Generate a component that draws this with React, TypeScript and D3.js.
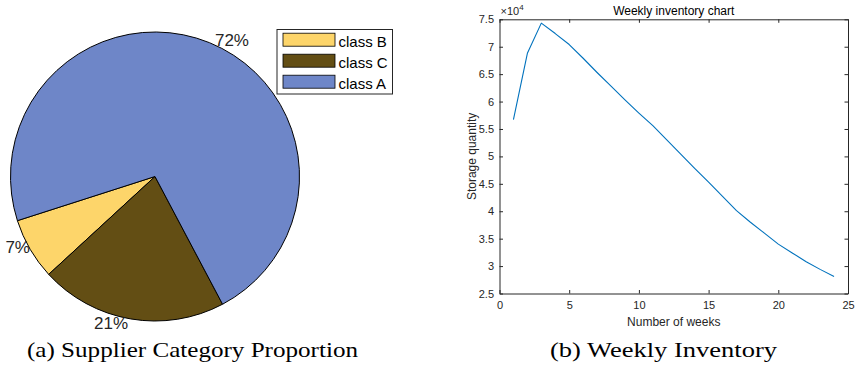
import React, { useRef, useEffect } from 'react';
import * as d3 from 'd3';

// left panel: supplier categories (legend order)
const classNames = ['class B', 'class C', 'class A'];
const classShares = [0.069, 0.209, 0.722];
const classColors = ['#fdd56a', '#634e14', '#6e86c8'];

// right panel: weekly inventory
const weeks = [1, 2, 3, 4, 5, 6, 7, 8, 9, 10, 11, 12, 13, 14, 15, 16, 17, 18, 19, 20, 21, 22, 23, 24];
const inventory = [
  56700, 68800, 74300, 72400, 70400, 67900, 65300, 62800, 60300, 57900, 55600, 53000,
  50400, 47800, 45300, 42700, 40100, 38000, 36000, 34000, 32400, 30800, 29400, 28100,
];
const xTicks = [0, 5, 10, 15, 20, 25];
const yTicks = [25000, 30000, 35000, 40000, 45000, 50000, 55000, 60000, 65000, 70000, 75000];

const captions = ['(a) Supplier Category Proportion', '(b) Weekly Inventory'];

const W = 857;
const H = 368;
const SANS = '"Liberation Sans", Arial, Helvetica, sans-serif';
const SERIF = '"Liberation Serif", "Times New Roman", serif';
const AXIS = '#262626';

const App = () => {
  const svgRef = useRef<SVGSVGElement>(null);

  useEffect(() => {
    if (!svgRef.current) return;
    const svg = d3.select(svgRef.current);
    svg.selectAll('*').remove();

    svg.append('rect').attr('width', W).attr('height', H).attr('fill', '#fff');

    // ---------- pie ----------
    const cx = 155, cy = 176.5, R = 144.5;
    const startDeg = 197.8; // where class B starts, going counter-clockwise
    const toRad = (deg: number) => ((90 - deg) * Math.PI) / 180;

    const pie = d3.pie<number>()
      .sort(null)
      .value(d => d)
      .startAngle(toRad(startDeg))
      .endAngle(toRad(startDeg + 360));
    const arcs = pie(classShares);

    const arc = d3.arc<any>().innerRadius(0).outerRadius(R);
    const labelArc = d3.arc<any>().innerRadius(R * 1.1).outerRadius(R * 1.1);

    const pg = svg.append('g').attr('transform', `translate(${cx},${cy})`);
    pg.selectAll('path.slice')
      .data(arcs)
      .enter()
      .append('path')
      .attr('class', 'slice')
      .attr('d', arc)
      .attr('fill', (d, i) => classColors[i])
      .attr('stroke', '#000')
      .attr('stroke-width', 1)
      .attr('stroke-linejoin', 'round');

    pg.selectAll('text.pct')
      .data(arcs)
      .enter()
      .append('text')
      .attr('class', 'pct')
      .each(function (d) {
        const [x, y] = labelArc.centroid(d);
        const c = x / (R * 1.1);
        const anchor = Math.abs(c) < 0.6 ? (c > 0 ? 'start' : 'end') : 'middle';
        d3.select(this)
          .attr('x', x)
          .attr('y', y < 0 ? y + 17 : y - 4)
          .attr('text-anchor', anchor);
      })
      .attr('font-family', SANS)
      .attr('font-size', 17)
      .attr('fill', '#262626')
      .text(d => `${Math.round(d.data * 100)}%`);

    // legend
    const lg = svg.append('g').attr('transform', 'translate(277,29.5)');
    lg.append('rect')
      .attr('width', 115.5)
      .attr('height', 64.5)
      .attr('fill', '#fff')
      .attr('stroke', AXIS)
      .attr('stroke-width', 1);
    classNames.forEach((name, i) => {
      const rowY = 10.2 + i * 21;
      lg.append('rect')
        .attr('x', 6)
        .attr('y', rowY - 6.5)
        .attr('width', 52)
        .attr('height', 13)
        .attr('fill', classColors[i])
        .attr('stroke', '#000')
        .attr('stroke-width', 0.8);
      lg.append('text')
        .attr('x', 61.5)
        .attr('y', rowY + 7)
        .attr('font-family', SANS)
        .attr('font-size', 15)
        .attr('fill', '#000')
        .text(name);
    });

    // ---------- line chart ----------
    const left = 499.5, right = 848, top = 19.3, bottom = 293.5;
    const x = d3.scaleLinear().domain([0, 25]).range([left, right]);
    const y = d3.scaleLinear().domain([25000, 75000]).range([bottom, top]);
    const tick = 3.5;

    const fmtY = (v: any) => `${+(v / 10000).toFixed(1)}`;

    const gx = svg.append('g').attr('transform', `translate(0,${bottom})`)
      .call(d3.axisBottom(x).tickValues(xTicks).tickSizeInner(-tick).tickSizeOuter(0).tickPadding(8));
    const gxt = svg.append('g').attr('transform', `translate(0,${top})`)
      .call(d3.axisTop(x).tickValues(xTicks).tickSizeInner(-tick).tickSizeOuter(0).tickFormat(() => ''));
    const gy = svg.append('g').attr('transform', `translate(${left},0)`)
      .call(d3.axisLeft(y).tickValues(yTicks).tickSizeInner(-tick).tickSizeOuter(0).tickPadding(5.5).tickFormat(fmtY));
    const gyr = svg.append('g').attr('transform', `translate(${right},0)`)
      .call(d3.axisRight(y).tickValues(yTicks).tickSizeInner(-tick).tickSizeOuter(0).tickFormat(() => ''));

    [gx, gxt, gy, gyr].forEach(g => {
      g.select('.domain').attr('stroke', AXIS).attr('stroke-width', 1);
      g.selectAll('.tick line').attr('stroke', AXIS).attr('stroke-width', 1);
      g.selectAll('.tick text')
        .attr('fill', AXIS)
        .attr('font-family', SANS)
        .attr('font-size', 11);
    });

    const line = d3.line<number>()
      .x((d, i) => x(weeks[i]))
      .y(d => y(d));

    svg.append('path')
      .datum(inventory)
      .attr('fill', 'none')
      .attr('stroke', '#0072bd')
      .attr('stroke-width', 1.1)
      .attr('stroke-linejoin', 'round')
      .attr('d', line);

    // exponent marker
    const exp = svg.append('text')
      .attr('x', left + 1)
      .attr('y', 15)
      .attr('font-family', SANS)
      .attr('font-size', 11)
      .attr('fill', AXIS);
    exp.append('tspan').text('\u00d710');
    exp.append('tspan').attr('dy', -5.5).attr('font-size', 8).text('4');

    svg.append('text')
      .attr('x', (left + right) / 2)
      .attr('y', 14.7)
      .attr('text-anchor', 'middle')
      .attr('font-family', SANS)
      .attr('font-size', 12)
      .attr('fill', '#000')
      .text('Weekly inventory chart');

    svg.append('text')
      .attr('x', (left + right) / 2)
      .attr('y', 325.5)
      .attr('text-anchor', 'middle')
      .attr('font-family', SANS)
      .attr('font-size', 12)
      .attr('fill', AXIS)
      .text('Number of weeks');

    svg.append('text')
      .attr('transform', `translate(475.5,${(top + bottom) / 2}) rotate(-90)`)
      .attr('text-anchor', 'middle')
      .attr('font-family', SANS)
      .attr('font-size', 12)
      .attr('fill', AXIS)
      .text('Storage quantity');

    // captions
    svg.append('text')
      .attr('x', 27)
      .attr('y', 356.7)
      .attr('font-family', SERIF)
      .attr('font-size', 21)
      .attr('textLength', 331)
      .attr('lengthAdjust', 'spacingAndGlyphs')
      .attr('fill', '#000')
      .text(captions[0]);

    svg.append('text')
      .attr('x', 550)
      .attr('y', 356.7)
      .attr('font-family', SERIF)
      .attr('font-size', 21)
      .attr('textLength', 227)
      .attr('lengthAdjust', 'spacingAndGlyphs')
      .attr('fill', '#000')
      .text(captions[1]);
  }, []);

  return (
    <svg
      ref={svgRef}
      width={W}
      height={H}
      style={{ position: 'absolute', left: 0, top: 0, display: 'block' }}
    />
  );
};

export default App;
